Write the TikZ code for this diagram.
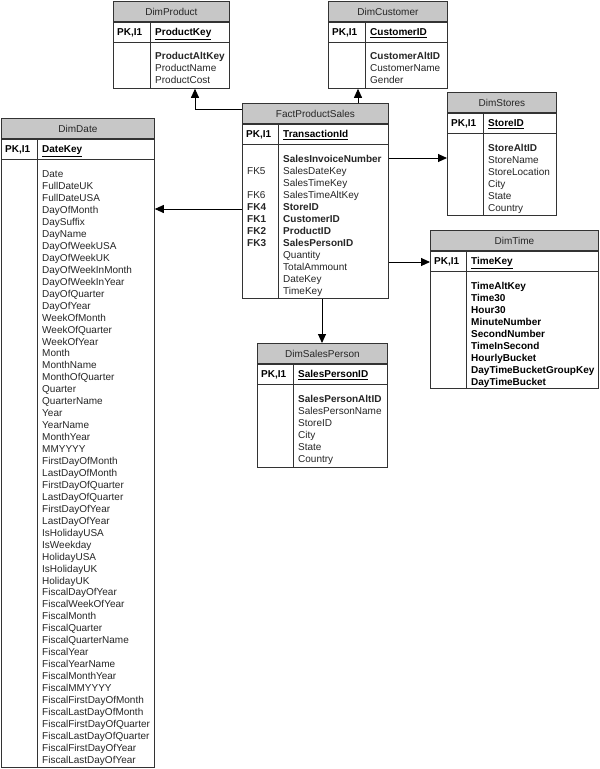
\documentclass[tikz,border=0pt]{standalone}
\usepackage{fontspec}
\setmainfont{Liberation Sans}
\usetikzlibrary{arrows.meta,positioning,calc}
\tikzset{
    tablebox/.style={draw=black!80, line width=0.8pt, anchor=north west, inner sep=0pt},
    titlebar/.style={draw=black!80, line width=0.8pt, fill=black!22, anchor=north west,
        inner sep=0pt, minimum height=20pt, font=\fontsize{10}{12}\selectfont,
        text height=7.2pt, text depth=0pt, text=black!85},
    pkrow/.style={draw=black!80, line width=0.8pt, anchor=north west, inner sep=0pt, minimum height=20pt},
    keytext/.style={anchor=west, inner sep=0pt, font=\fontsize{10}{12}\selectfont\bfseries,
        text height=7.2pt, text depth=0pt},
    fieldtext/.style={anchor=west, inner sep=0pt, font=\fontsize{10}{12}\selectfont,
        text height=7.2pt, text depth=0pt, text=black!85},
    fkarrow/.style={-{Triangle[length=9pt,width=8pt]}, line width=0.9pt}
}
% table frame: name, corner, width, key column, height, title, primary key
\newcommand{\dbtable}[7]{%
  \node[tablebox, minimum width=#3pt, minimum height=#5pt] (#1) at (#2) {};
  \node[titlebar, minimum width=#3pt] (#1-title) at (#1.north west) {#6};
  \node[pkrow, minimum width=#3pt] (#1-pk) at (#1-title.south west) {};
  \node[keytext] at ($(#1-pk.west)+(4,0)$) {PK,I1};
  \node[keytext] at ($(#1-pk.west)+(#4+5,0)$) {\underline{#7}};
  \draw[draw=black!80, line width=0.8pt] ($(#1-pk.north west)+(#4,0)$) -- ($(#1.south west)+(#4,0)$);
}

\begin{document}
\begin{tikzpicture}[x=1pt, y=-1pt]
\path[use as bounding box, fill=white] (0,0) rectangle (600,769);

\dbtable{dimproduct}{113,1}{116}{37}{87}{DimProduct}{ProductKey}
\dbtable{dimcustomer}{328,1}{119}{37}{87}{DimCustomer}{CustomerID}
\dbtable{fact}{242,103}{146}{36}{195}{FactProductSales}{TransactionId}
\dbtable{dimstores}{447,92}{109}{36}{123}{DimStores}{StoreID}
\dbtable{dimtime}{430,230}{168}{36}{158}{DimTime}{TimeKey}
\dbtable{dimsalesperson}{257,343}{130}{36}{124}{DimSalesPerson}{SalesPersonID}
\dbtable{dimdate}{1,118}{153}{36}{649}{DimDate}{DateKey}

% columns
\foreach \f [count=\i from 0] in {{\bfseries ProductAltKey}, ProductName, ProductCost}
  \node[fieldtext] at ($(dimproduct-pk.south west)+(42,13+\i*11.95)$) {\f};
\foreach \f [count=\i from 0] in {{\bfseries CustomerAltID}, CustomerName, Gender}
  \node[fieldtext] at ($(dimcustomer-pk.south west)+(42,13+\i*11.95)$) {\f};
\foreach \f [count=\i from 0] in {{\bfseries StoreAltID}, StoreName, StoreLocation, City, State, Country}
  \node[fieldtext] at ($(dimstores-pk.south west)+(41,14.5+\i*11.95)$) {\f};
\foreach \f [count=\i from 0] in {TimeAltKey, Time30, Hour30, MinuteNumber, SecondNumber,
    TimeInSecond, HourlyBucket, DayTimeBucketGroupKey, DayTimeBucket}
  \node[fieldtext, font=\fontsize{10}{12}\selectfont\bfseries, text=black] at ($(dimtime-pk.south west)+(41,14.5+\i*11.95)$) {\f};
\foreach \f [count=\i from 0] in {{\bfseries SalesPersonAltID}, SalesPersonName, StoreID, City, State, Country}
  \node[fieldtext] at ($(dimsalesperson-pk.south west)+(41,14.5+\i*11.95)$) {\f};
\foreach \k/\f [count=\i from 0] in {/{\bfseries SalesInvoiceNumber}, FK5/SalesDateKey, /SalesTimeKey,
    FK6/SalesTimeAltKey, {\bfseries FK4}/{\bfseries StoreID}, {\bfseries FK1}/{\bfseries CustomerID},
    {\bfseries FK2}/{\bfseries ProductID}, {\bfseries FK3}/{\bfseries SalesPersonID}, /Quantity,
    /TotalAmmount, /DateKey, /TimeKey}
  {
    \node[fieldtext] at ($(fact-pk.south west)+(5,14.5+\i*11.95)$) {\k};
    \node[fieldtext] at ($(fact-pk.south west)+(41,14.5+\i*11.95)$) {\f};
  }
\foreach \f [count=\i from 0] in {Date, FullDateUK, FullDateUSA, DayOfMonth, DaySuffix, DayName,
    DayOfWeekUSA, DayOfWeekUK, DayOfWeekInMonth, DayOfWeekInYear, DayOfQuarter, DayOfYear,
    WeekOfMonth, WeekOfQuarter, WeekOfYear, Month, MonthName, MonthOfQuarter, Quarter,
    QuarterName, Year, YearName, MonthYear, MMYYYY, FirstDayOfMonth, LastDayOfMonth,
    FirstDayOfQuarter, LastDayOfQuarter, FirstDayOfYear, LastDayOfYear, IsHolidayUSA,
    IsWeekday, HolidayUSA, IsHolidayUK, HolidayUK, FiscalDayOfYear, FiscalWeekOfYear,
    FiscalMonth, FiscalQuarter, FiscalQuarterName, FiscalYear, FiscalYearName,
    FiscalMonthYear, FiscalMMYYYY, FiscalFirstDayOfMonth, FiscalLastDayOfMonth,
    FiscalFirstDayOfQuarter, FiscalLastDayOfQuarter, FiscalFirstDayOfYear, FiscalLastDayOfYear}
  \node[fieldtext] at ($(dimdate-pk.south west)+(41,14.5+\i*11.95)$) {\f};

% relationships
\coordinate (toproduct) at ($(fact.north west)+(0,6)$);
\coordinate (tocustomer) at ($(fact.north west)+(116,0)$);
\coordinate (tostores) at ($(fact.north east)+(0,55)$);
\coordinate (todate) at ($(fact.north west)+(0,106)$);
\coordinate (totime) at ($(fact.north east)+(0,159)$);
\coordinate (toperson) at ($(fact.south west)+(80,0)$);
\draw[fkarrow] (toproduct) -| ($(dimproduct.south west)+(82,0)$);
\draw[fkarrow] (tocustomer) -- (tocustomer |- dimcustomer.south);
\draw[fkarrow] (tostores) -- (tostores -| dimstores.west);
\draw[fkarrow] (todate) -- (todate -| dimdate.east);
\draw[fkarrow] (totime) -- (totime -| dimtime.west);
\draw[fkarrow] (toperson) -- (toperson |- dimsalesperson.north);
\end{tikzpicture}
\end{document}
